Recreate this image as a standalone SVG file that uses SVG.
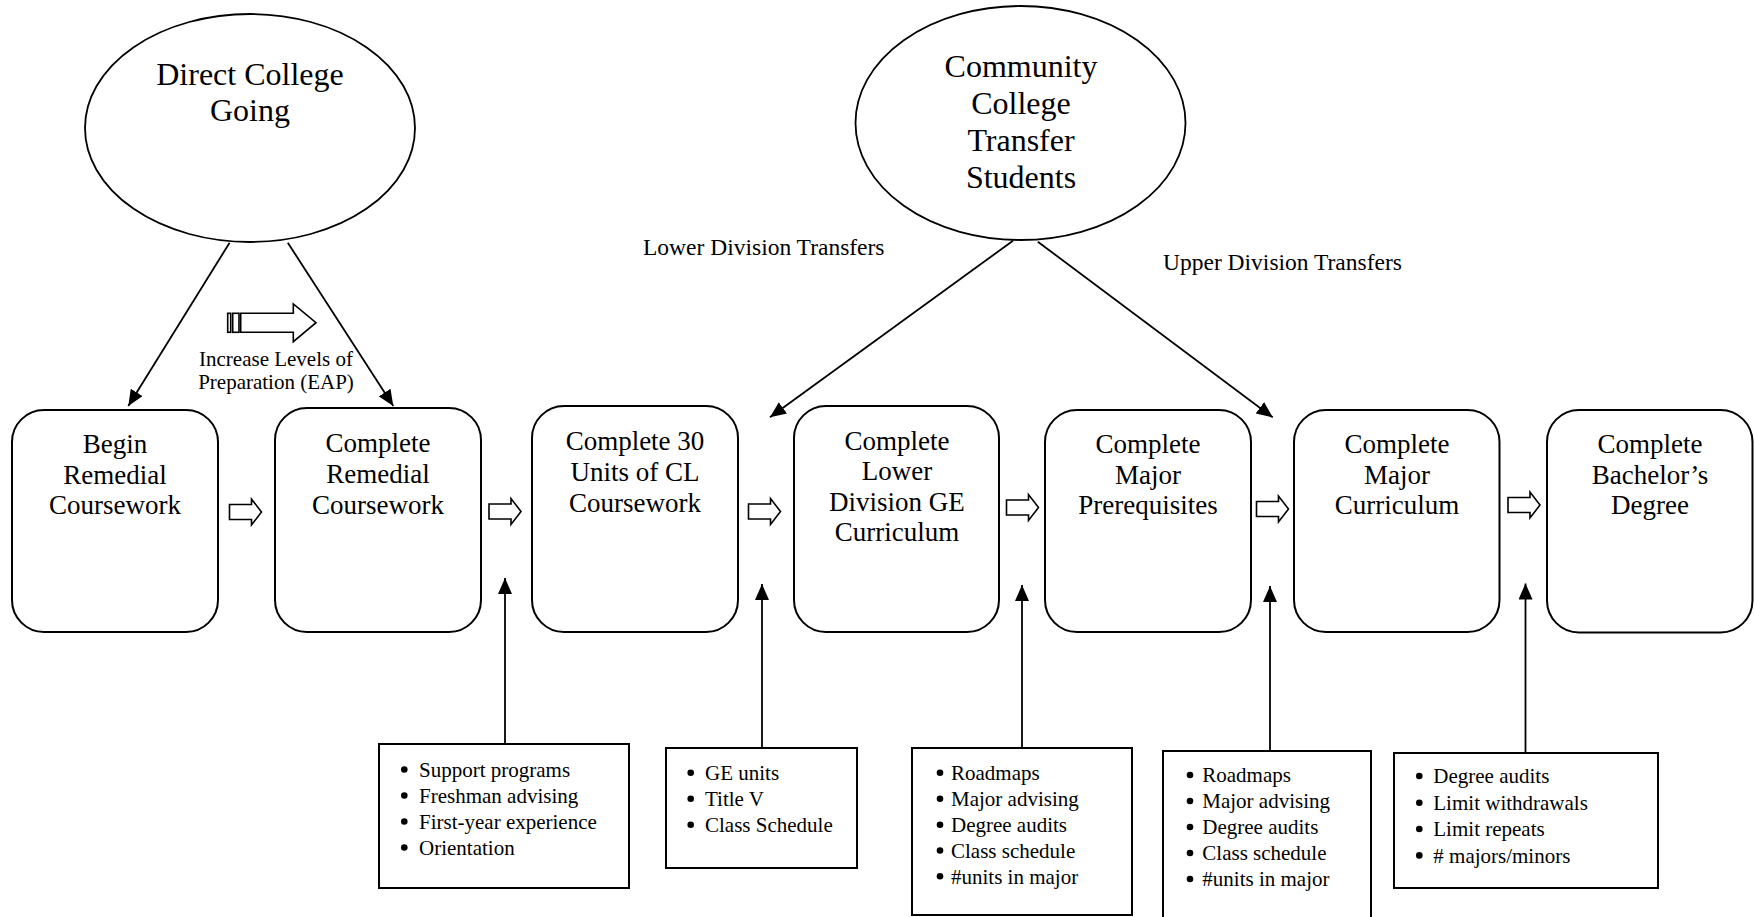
<svg xmlns="http://www.w3.org/2000/svg" width="1754" height="917" viewBox="0 0 1754 917">
<defs>
<style>
text{font-family:"Liberation Serif","Times New Roman",serif;fill:#000}
.big{font-size:32px;text-anchor:middle}
.step{font-size:27px;text-anchor:middle}
.lbl{font-size:23.5px}
.note{font-size:21px;text-anchor:middle}
.item{font-size:21px}
.ell{fill:#fff;stroke:#000;stroke-width:1.8}
.rbox{fill:#fff;stroke:#000;stroke-width:2}
.sbox{fill:#fff;stroke:#000;stroke-width:2}
.conn{stroke:#000;stroke-width:1.8;fill:none;marker-end:url(#ah)}
.blk{fill:#fff;stroke:#000;stroke-width:1.6}
.dot{fill:#000}
</style>
<marker id="ah" markerUnits="userSpaceOnUse" markerWidth="17" markerHeight="14" refX="16" refY="7" orient="auto">
<path d="M0,0 L16,7 L0,14 Z" fill="#000"/>
</marker>
<path id="sa" d="M0,-7.5 H22 V-13 L32,0 L22,13 V7.5 H0 Z"/>
</defs>

<g id="direct-college">
<ellipse class="ell" cx="250" cy="128" rx="165" ry="114"/>
<text class="big" x="250" y="85">Direct College</text>
<text class="big" x="250" y="121">Going</text>
</g>

<g id="community-college">
<ellipse class="ell" cx="1020.5" cy="123" rx="165" ry="117"/>
<text class="big" x="1021" y="77">Community</text>
<text class="big" x="1021" y="114">College</text>
<text class="big" x="1021" y="151">Transfer</text>
<text class="big" x="1021" y="188">Students</text>
</g>

<g id="label-lower"><text class="lbl" x="643" y="255">Lower Division Transfers</text></g>
<g id="label-upper"><text class="lbl" x="1163" y="270">Upper Division Transfers</text></g>

<g id="eap">
<rect class="blk" x="227.7" y="313.3" width="3" height="19"/>
<rect class="blk" x="232.7" y="313.3" width="6.3" height="19"/>
<path class="blk" d="M240.7,313.3 H293.3 V304 L316,322.7 L293.3,341.7 V332.3 H240.7 Z"/>
<text class="note" x="276" y="366">Increase Levels of</text>
<text class="note" x="276" y="389">Preparation (EAP)</text>
</g>

<g id="step1">
<rect class="rbox" x="12" y="410" width="206" height="222" rx="32" ry="32"/>
<text class="step" x="115" y="452.7">Begin</text>
<text class="step" x="115" y="483.5">Remedial</text>
<text class="step" x="115" y="514">Coursework</text>
</g>
<g id="step2">
<rect class="rbox" x="275" y="408" width="206" height="224" rx="32" ry="32"/>
<text class="step" x="378" y="452">Complete</text>
<text class="step" x="378" y="483">Remedial</text>
<text class="step" x="378" y="513.5">Coursework</text>
</g>
<g id="step3">
<rect class="rbox" x="532" y="406" width="206" height="226" rx="32" ry="32"/>
<text class="step" x="635" y="450">Complete 30</text>
<text class="step" x="635" y="481">Units of CL</text>
<text class="step" x="635" y="511.7">Coursework</text>
</g>
<g id="step4">
<rect class="rbox" x="794" y="406" width="205" height="226" rx="32" ry="32"/>
<text class="step" x="897" y="449.5">Complete</text>
<text class="step" x="897" y="480">Lower</text>
<text class="step" x="897" y="510.5">Division GE</text>
<text class="step" x="897" y="541">Curriculum</text>
</g>
<g id="step5">
<rect class="rbox" x="1045" y="410" width="206" height="222" rx="32" ry="32"/>
<text class="step" x="1148" y="452.7">Complete</text>
<text class="step" x="1148" y="483.5">Major</text>
<text class="step" x="1148" y="514">Prerequisites</text>
</g>
<g id="step6">
<rect class="rbox" x="1294" y="410" width="205.5" height="222" rx="32" ry="32"/>
<text class="step" x="1397" y="452.7">Complete</text>
<text class="step" x="1397" y="483.5">Major</text>
<text class="step" x="1397" y="514">Curriculum</text>
</g>
<g id="step7">
<rect class="rbox" x="1547" y="410" width="205.5" height="222.5" rx="32" ry="32"/>
<text class="step" x="1650" y="452.7">Complete</text>
<text class="step" x="1650" y="483.5">Bachelor’s</text>
<text class="step" x="1650" y="514">Degree</text>
</g>

<g id="support-a">
<rect class="sbox" x="379" y="744" width="250" height="144"/>
<circle class="dot" cx="404.3" cy="769.5" r="3.3"/><text class="item" x="419" y="776.7">Support programs</text>
<circle class="dot" cx="404.3" cy="795.5" r="3.3"/><text class="item" x="419" y="802.7">Freshman advising</text>
<circle class="dot" cx="404.3" cy="821.5" r="3.3"/><text class="item" x="419" y="828.7">First-year experience</text>
<circle class="dot" cx="404.3" cy="847.5" r="3.3"/><text class="item" x="419" y="854.7">Orientation</text>
</g>
<g id="support-b">
<rect class="sbox" x="666" y="748" width="191" height="120"/>
<circle class="dot" cx="690.7" cy="772.8" r="3.3"/><text class="item" x="705" y="780">GE units</text>
<circle class="dot" cx="690.7" cy="798.8" r="3.3"/><text class="item" x="705" y="806">Title V</text>
<circle class="dot" cx="690.7" cy="824.8" r="3.3"/><text class="item" x="705" y="832">Class Schedule</text>
</g>
<g id="support-c">
<rect class="sbox" x="912" y="748" width="220" height="167"/>
<circle class="dot" cx="940" cy="772.8" r="3.3"/><text class="item" x="951" y="780">Roadmaps</text>
<circle class="dot" cx="940" cy="798.8" r="3.3"/><text class="item" x="951" y="806">Major advising</text>
<circle class="dot" cx="940" cy="824.8" r="3.3"/><text class="item" x="951" y="832">Degree audits</text>
<circle class="dot" cx="940" cy="850.5" r="3.3"/><text class="item" x="951" y="857.7">Class schedule</text>
<circle class="dot" cx="940" cy="876.3" r="3.3"/><text class="item" x="951" y="883.5">#units in major</text>
</g>
<g id="support-d">
<rect class="sbox" x="1163" y="751" width="208" height="175"/>
<circle class="dot" cx="1190" cy="775" r="3.3"/><text class="item" x="1202.3" y="782.3">Roadmaps</text>
<circle class="dot" cx="1190" cy="801" r="3.3"/><text class="item" x="1202.3" y="808.3">Major advising</text>
<circle class="dot" cx="1190" cy="827" r="3.3"/><text class="item" x="1202.3" y="834.3">Degree audits</text>
<circle class="dot" cx="1190" cy="853" r="3.3"/><text class="item" x="1202.3" y="860.3">Class schedule</text>
<circle class="dot" cx="1190" cy="879" r="3.3"/><text class="item" x="1202.3" y="886">#units in major</text>
</g>
<g id="support-e">
<rect class="sbox" x="1394" y="753" width="264" height="135"/>
<circle class="dot" cx="1419.3" cy="776" r="3.3"/><text class="item" x="1433.3" y="783.3">Degree audits</text>
<circle class="dot" cx="1419.3" cy="802.7" r="3.3"/><text class="item" x="1433.3" y="810">Limit withdrawals</text>
<circle class="dot" cx="1419.3" cy="829" r="3.3"/><text class="item" x="1433.3" y="836.3">Limit repeats</text>
<circle class="dot" cx="1419.3" cy="855.4" r="3.3"/><text class="item" x="1433.3" y="862.7"># majors/minors</text>
</g>

<g id="connectors">
<line class="conn" x1="229.6" y1="242.7" x2="128.3" y2="406"/>
<line class="conn" x1="287.8" y1="242.7" x2="393.3" y2="406"/>
<line class="conn" x1="1013" y1="240.7" x2="770" y2="417.3"/>
<line class="conn" x1="1037.8" y1="241.7" x2="1272.7" y2="417.3"/>
<line class="conn" x1="505" y1="744" x2="505" y2="578"/>
<line class="conn" x1="762" y1="748" x2="762" y2="584"/>
<line class="conn" x1="1022" y1="748" x2="1022" y2="585"/>
<line class="conn" x1="1270" y1="751" x2="1270" y2="586"/>
<line class="conn" x1="1525.5" y1="753" x2="1525.5" y2="583.5"/>
<use href="#sa" class="blk" x="229.5" y="512"/>
<use href="#sa" class="blk" x="489" y="511.5"/>
<use href="#sa" class="blk" x="748.5" y="511.5"/>
<use href="#sa" class="blk" x="1006.5" y="507.5"/>
<use href="#sa" class="blk" x="1256.5" y="509"/>
<use href="#sa" class="blk" x="1508" y="505"/>
</g>
</svg>
